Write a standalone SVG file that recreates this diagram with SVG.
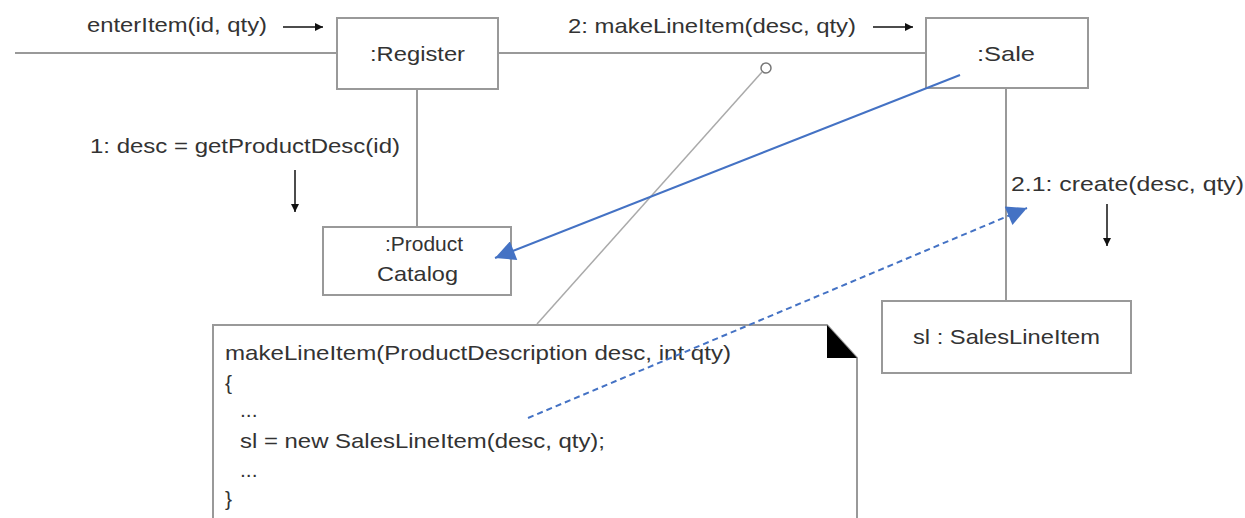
<svg xmlns="http://www.w3.org/2000/svg" width="1245" height="518" viewBox="0 0 1245 518">
<style>
text{font-family:"Liberation Sans",Arial,sans-serif;font-size:21px;fill:#333}
.box{fill:#fff;stroke:#999;stroke-width:2}
.ln{stroke:#999;stroke-width:2;fill:none}
.msg{stroke:#111;stroke-width:1.5;fill:none}
.blue{stroke:#4472C4;stroke-width:2;fill:none}
</style>
<defs>
<marker id="ah" viewBox="0 0 10 10" refX="10" refY="5" markerWidth="11" markerHeight="8" orient="auto" markerUnits="userSpaceOnUse"><path d="M0,0L10,5L0,10z" fill="#111"/></marker>
<marker id="bh" viewBox="0 0 10 10" refX="10" refY="5" markerWidth="22" markerHeight="20" orient="auto" markerUnits="userSpaceOnUse"><path d="M0,0L10,5L0,10z" fill="#4472C4"/></marker>
</defs>
<rect width="1245" height="518" fill="#fff"/>
<g id="labels">
<text x="87" y="32" textLength="180" lengthAdjust="spacingAndGlyphs">enterItem(id, qty)</text>
<text x="568" y="33" textLength="288" lengthAdjust="spacingAndGlyphs">2: makeLineItem(desc, qty)</text>
<text x="90" y="153" textLength="310" lengthAdjust="spacingAndGlyphs">1: desc = getProductDesc(id)</text>
<text x="1011" y="191" textLength="233" lengthAdjust="spacingAndGlyphs">2.1: create(desc, qty)</text>
</g>
<g id="register">
<rect class="box" x="337" y="18" width="161" height="71"/>
<text x="370" y="61" textLength="95" lengthAdjust="spacingAndGlyphs">:Register</text>
</g>
<g id="sale">
<rect class="box" x="926" y="18" width="162" height="70"/>
<text x="977" y="61" textLength="58" lengthAdjust="spacingAndGlyphs">:Sale</text>
</g>
<g id="productCatalog">
<rect class="box" x="323" y="227" width="188" height="68"/>
<text x="385" y="251" textLength="78" lengthAdjust="spacingAndGlyphs">:Product</text>
<text x="377" y="281" textLength="81" lengthAdjust="spacingAndGlyphs">Catalog</text>
</g>
<g id="salesLineItem">
<rect class="box" x="882" y="301" width="249" height="72"/>
<text x="913" y="344" textLength="187" lengthAdjust="spacingAndGlyphs">sl : SalesLineItem</text>
</g>
<g id="note">
<path d="M857,530 L857,358 L827,325 L213,325 L213,530" fill="#fff" stroke="#999" stroke-width="2"/>
<path d="M827,325 L827,358 L857,358 Z" fill="#000"/>
<text x="225" y="360" textLength="506" lengthAdjust="spacingAndGlyphs">makeLineItem(ProductDescription desc, int qty)</text>
<text x="225" y="390">{</text>
<text x="240" y="417" font-size="16" fill="#777">...</text>
<text x="240" y="448" textLength="365" lengthAdjust="spacingAndGlyphs">sl = new SalesLineItem(desc, qty);</text>
<text x="240" y="477" font-size="16" fill="#777">...</text>
<text x="225" y="506">}</text>
</g>
<g id="connectors">
<line class="ln" x1="15" y1="53" x2="337" y2="53"/>
<line class="ln" x1="498" y1="53" x2="926" y2="53"/>
<line class="ln" x1="417" y1="89" x2="417" y2="227"/>
<line class="ln" x1="1006" y1="88" x2="1006" y2="301"/>
<line x1="762" y1="72" x2="537" y2="324" stroke="#aaa" stroke-width="1.5"/>
<circle cx="766" cy="68" r="5" fill="#fff" stroke="#777" stroke-width="1.5"/>
<line class="msg" x1="283" y1="27" x2="323" y2="27" marker-end="url(#ah)"/>
<line class="msg" x1="873" y1="27" x2="913" y2="27" marker-end="url(#ah)"/>
<line class="msg" x1="295" y1="170" x2="295" y2="212" marker-end="url(#ah)"/>
<line class="msg" x1="1107" y1="204" x2="1107" y2="246" marker-end="url(#ah)"/>
<line class="blue" x1="960" y1="75" x2="495" y2="258" marker-end="url(#bh)"/>
<line class="blue" x1="528" y1="418" x2="1027" y2="208" stroke-dasharray="6,4" marker-end="url(#bh)"/>
</g>
</svg>
